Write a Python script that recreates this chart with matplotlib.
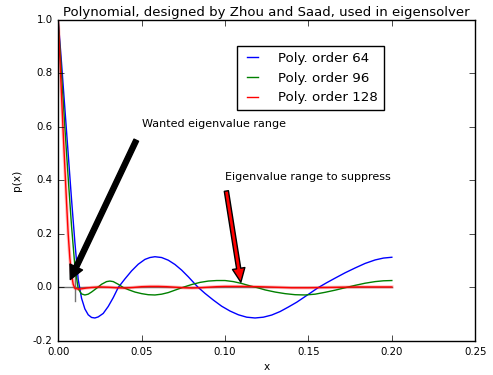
import matplotlib
matplotlib.use("Agg")
import matplotlib.pyplot as plt

# ---- data ----
x64 = [0.000, 0.002, 0.004, 0.006, 0.008, 0.010, 0.012, 0.014, 0.016, 0.018,
       0.020, 0.022, 0.024, 0.027, 0.030, 0.033, 0.036, 0.040, 0.044, 0.048,
       0.052, 0.055, 0.058, 0.062, 0.066, 0.070, 0.074, 0.078, 0.082, 0.084,
       0.088, 0.093, 0.098, 0.103, 0.108, 0.113, 0.118, 0.123, 0.128, 0.133,
       0.138, 0.143, 0.148, 0.152, 0.156, 0.161, 0.166, 0.172, 0.178, 0.184,
       0.190, 0.195, 0.200]
y64 = [1.000, 0.840, 0.670, 0.500, 0.330, 0.170, 0.030, -0.040, -0.080, -0.102,
       -0.112, -0.114, -0.110, -0.097, -0.071, -0.038, 0.000, 0.032, 0.062, 0.087,
       0.105, 0.112, 0.115, 0.112, 0.102, 0.086, 0.065, 0.040, 0.013, 0.000,
       -0.022, -0.047, -0.070, -0.088, -0.102, -0.111, -0.114, -0.111, -0.103, -0.090,
       -0.073, -0.055, -0.034, -0.017, 0.000, 0.018, 0.035, 0.055, 0.073, 0.090,
       0.103, 0.110, 0.113]

x96 = [0.000, 0.002, 0.004, 0.006, 0.008, 0.010, 0.012, 0.014, 0.016, 0.018,
       0.020, 0.023, 0.026, 0.029, 0.031, 0.033, 0.036, 0.039, 0.042, 0.046,
       0.050, 0.054, 0.058, 0.062, 0.066, 0.070, 0.075, 0.080, 0.085, 0.090,
       0.095, 0.100, 0.105, 0.110, 0.115, 0.119, 0.124, 0.130, 0.136, 0.142,
       0.148, 0.154, 0.160, 0.166, 0.172, 0.178, 0.184, 0.190, 0.195, 0.200]
y96 = [1.000, 0.800, 0.600, 0.410, 0.230, 0.080, -0.005, -0.024, -0.028, -0.025,
       -0.017, -0.003, 0.012, 0.022, 0.024, 0.022, 0.012, 0.000, -0.008, -0.017,
       -0.023, -0.027, -0.028, -0.025, -0.019, -0.010, 0.001, 0.011, 0.019, 0.024,
       0.026, 0.026, 0.022, 0.015, 0.006, 0.000, -0.009, -0.017, -0.023, -0.027,
       -0.028, -0.025, -0.018, -0.010, -0.001, 0.008, 0.016, 0.022, 0.025, 0.026]

x128 = [0.000, 0.001, 0.002, 0.003, 0.004, 0.005, 0.006, 0.007, 0.008, 0.009,
        0.010, 0.012, 0.014, 0.017, 0.020, 0.025, 0.030, 0.035, 0.040, 0.045,
        0.050, 0.055, 0.060, 0.065, 0.070, 0.075, 0.080, 0.085, 0.090, 0.095,
        0.100, 0.110, 0.120, 0.130, 0.140, 0.150, 0.160, 0.170, 0.180, 0.190,
        0.200]
y128 = [1.000, 0.860, 0.720, 0.580, 0.450, 0.320, 0.200, 0.110, 0.050, 0.012,
        -0.003, -0.006, -0.005, -0.002, 0.000, 0.002, 0.001, -0.001, -0.002, 0.000,
        0.003, 0.004, 0.004, 0.003, 0.001, -0.001, -0.002, -0.001, 0.001, 0.003,
        0.004, 0.004, 0.003, 0.001, -0.001, -0.001, 0.000, 0.001, 0.002, 0.002,
        0.002]

labels = ["Poly. order 64", "Poly. order 96", "Poly. order 128"]
colors = ["b", "g", "r"]

zero_line_x = [0.0, 0.2]
zero_line_y = [0.0, 0.0]
mark_x = [0.01, 0.01]
mark_y = [-0.05, 0.05]

xticks = [0.00, 0.05, 0.10, 0.15, 0.20, 0.25]
yticks = [-0.2, 0.0, 0.2, 0.4, 0.6, 0.8, 1.0]

title = "Polynomial, designed by Zhou and Saad, used in eigensolver"
ann1 = ("Wanted eigenvalue range", (0.005, 0.0), (0.05, 0.6))
ann2 = ("Eigenvalue range to suppress", (0.11, 0.0), (0.10, 0.4))

# ---- plotting ----
plt.style.use("classic")
fig = plt.figure(figsize=(4.93, 3.75), dpi=100, facecolor="white")
ax = fig.add_axes([0.118, 0.0907, 0.846, 0.856])

ax.plot(zero_line_x, zero_line_y, color="0.45", lw=1.0, zorder=1)
ax.plot(mark_x, mark_y, color="0.45", lw=1.0, zorder=1)

ax.plot(x64, y64, color=colors[0], lw=1.0, label=labels[0])
ax.plot(x96, y96, color=colors[1], lw=1.0, label=labels[1])
ax.plot(x128, y128, color=colors[2], lw=2.4, alpha=0.25)
ax.plot(x128, y128, color=colors[2], lw=1.0, label=labels[2])

ax.set_xlim(0, 0.25)
ax.set_ylim(-0.2, 1.0)
ax.set_xticks(xticks)
ax.set_yticks(yticks)
ax.set_xticklabels(["%.2f" % v for v in xticks])
ax.set_yticklabels(["%.1f" % v for v in yticks])
ax.tick_params(labelsize=7.4, direction="in", top=True, right=True, length=4)
ax.set_xlabel("x", fontsize=7.6, labelpad=4)
ax.set_ylabel("p(x)", fontsize=7.6, labelpad=8)
ax.set_title(title, fontsize=9.5, pad=3)

ax.annotate(ann1[0], xy=ann1[1], xytext=ann1[2], fontsize=8.0,
            arrowprops=dict(facecolor="black", edgecolor="black", shrink=0.05,
                            width=3.6, headwidth=10, headlength=10))
ax.annotate(ann2[0], xy=ann2[1], xytext=ann2[2], fontsize=8.0,
            arrowprops=dict(facecolor="red", edgecolor="black", shrink=0.05,
                            width=3.0, headwidth=9, headlength=10))

leg = ax.legend(loc="upper left", bbox_to_anchor=(236.7 / 493, 1 - 46 / 375),
                bbox_transform=fig.transFigure, borderaxespad=0,
                fontsize=9.6, handlelength=1.45, handletextpad=1.2,
                labelspacing=0.5, borderpad=0.45, fancybox=False,
                numpoints=2, frameon=True)
leg.get_frame().set_edgecolor("black")
leg.get_frame().set_linewidth(1.0)

fig.savefig("out.png", dpi=100, facecolor="white")
